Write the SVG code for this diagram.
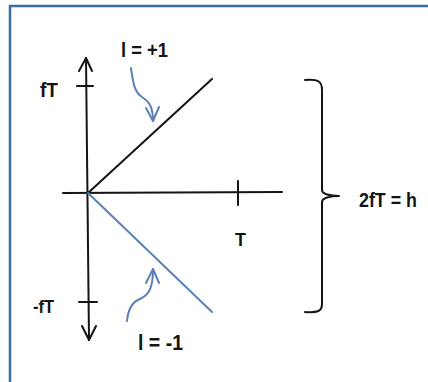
<svg xmlns="http://www.w3.org/2000/svg" width="428" height="382" viewBox="0 0 428 382">
<style>
.ax{fill:none;stroke:#141414;stroke-width:2;stroke-linecap:round;stroke-linejoin:round}
.bl{fill:none;stroke:#5a82b4;stroke-width:2;stroke-linecap:round;stroke-linejoin:round}
text{font-family:"Liberation Sans",Arial,sans-serif;font-weight:bold;fill:#141414}
</style>
<rect x="0" y="0" width="428" height="382" fill="#ffffff"/>
<path d="M10,440 V6 H440" fill="none" stroke="#3d6aa8" stroke-width="2.5"/>
<g id="axes">
<path class="ax" d="M86,58 L89,340"/>
<path class="ax" d="M79,71 L86,58 L92,71"/>
<path class="ax" d="M82,326 L89,340 L96,326"/>
<path class="ax" d="M63,193 L282,192"/>
<path class="ax" d="M77,86 L93,86"/>
<path class="ax" d="M79,302 L97,302"/>
<path class="ax" d="M238,181 L238,205"/>
</g>
<g id="line-plus">
<path class="ax" d="M88,193 L212,79"/>
</g>
<g id="line-minus">
<path class="bl" d="M88,193 L212,312"/>
</g>
<g id="connectors">
<path class="bl" d="M131,68 C133,82 134,92 142,97 C150,102 153,108 153,121"/>
<path class="bl" d="M146,108 L153,121 L159,107"/>
<path class="bl" d="M127,321 C128,310 132,302 140,299 C149,295 153,288 153,269"/>
<path class="bl" d="M146,283 L153,269 L159,283"/>
</g>
<g id="brace">
<path class="ax" d="M305,80 C318,79 322,81 322,90 L322,190 C322,194 330,196 339,196 C330,196 322,198 322,202 L322,304 C322,311 318,313 305,312"/>
</g>
<g id="labels">
<text x="121" y="57" font-size="21" textLength="47" lengthAdjust="spacingAndGlyphs">l = +1</text>
<text x="138" y="350" font-size="22" textLength="45" lengthAdjust="spacingAndGlyphs">l = -1</text>
<text x="40" y="97" font-size="20" textLength="18" lengthAdjust="spacingAndGlyphs">fT</text>
<text x="33" y="313" font-size="19" textLength="21" lengthAdjust="spacingAndGlyphs">-fT</text>
<text x="235" y="246" font-size="19" textLength="11" lengthAdjust="spacingAndGlyphs">T</text>
<text x="359" y="207" font-size="20" textLength="58" lengthAdjust="spacingAndGlyphs">2fT = h</text>
</g>
</svg>
